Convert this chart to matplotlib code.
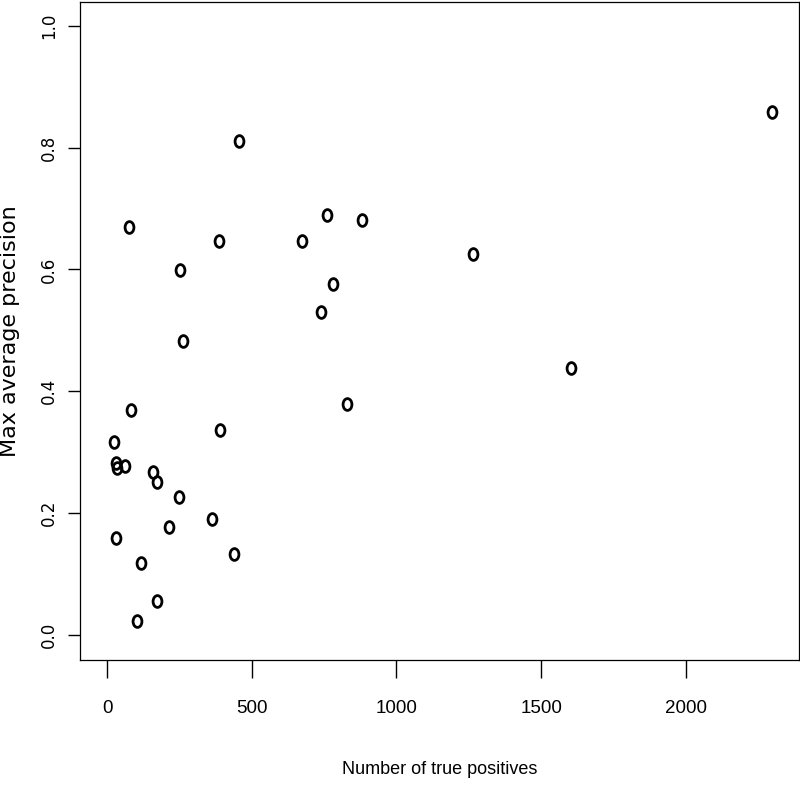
import matplotlib
matplotlib.use("Agg")
import matplotlib.pyplot as plt
from matplotlib.path import Path
import numpy as np

# Data
true_positives = [454, 2298, 76, 759, 881, 385, 673, 251, 1263, 781, 738, 261,
                  1602, 830, 81, 390, 23, 30, 32, 60, 159, 171, 249, 212, 362,
                  30, 438, 118, 171, 102]
max_avg_precision = [0.811, 0.859, 0.669, 0.690, 0.682, 0.647, 0.646, 0.599, 0.625,
                     0.576, 0.530, 0.483, 0.438, 0.380, 0.369, 0.336, 0.317, 0.283,
                     0.274, 0.278, 0.268, 0.251, 0.227, 0.177, 0.190, 0.159, 0.133,
                     0.118, 0.056, 0.023]
x_ticks = [0, 500, 1000, 1500, 2000]
y_ticks = [0.0, 0.2, 0.4, 0.6, 0.8, 1.0]
y_tick_labels = ["0.0", "0.2", "0.4", "0.6", "0.8", "1.0"]

sans = ['Liberation Sans', 'DejaVu Sans']

fig = plt.figure(figsize=(8.0, 7.87), dpi=100)
ax = fig.add_axes([0.1, 0.1614, 0.89875, 0.836])

circ = Path.unit_circle()
ell = Path(circ.vertices * np.array([0.75, 1.0]), circ.codes)

ax.plot(true_positives, max_avg_precision, linestyle='none', marker=ell,
        markersize=8.5, markerfacecolor='none', markeredgecolor='black',
        markeredgewidth=2.0)

ax.set_xlim(-94.4, 2391.8)
ax.set_ylim(-0.041, 1.039)

for s in ax.spines.values():
    s.set_linewidth(0.9)
    s.set_color('black')

ax.set_xticks(x_ticks)
ax.set_xticklabels([str(v) for v in x_ticks], fontfamily=sans, fontsize=13.5)
ax.set_yticks(y_ticks)
ax.set_yticklabels(y_tick_labels, fontfamily='DejaVu Sans', fontsize=12,
                   rotation=90, va='center')
ax.tick_params(axis='x', direction='out', length=13, width=1.0, pad=16, colors='black')
ax.tick_params(axis='y', direction='out', length=8.6, width=1.0, pad=7, colors='black')

ax.set_xlabel("Number of true positives", fontfamily=sans, fontsize=13, va='center')
ax.xaxis.set_label_coords(0.5, -0.167)
ax.set_ylabel("Max average precision", fontfamily='DejaVu Sans', fontsize=16, va='center')
ax.yaxis.set_label_coords(-0.0974, 0.5)

fig.savefig("out.png", dpi=100)
